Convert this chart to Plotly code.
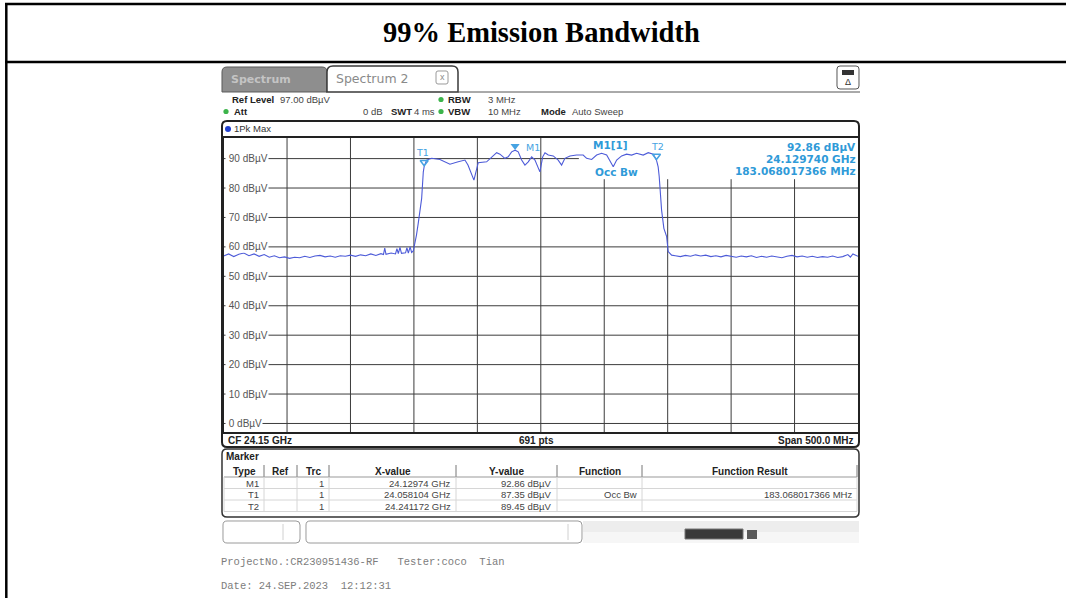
import plotly.graph_objects as go

W, H = 1066, 598

# ---------------- data ----------------
center_freq_ghz = 24.15
span_mhz = 500.0
ref_level_dbuv = 97.0
bottom_level_dbuv = -3.0
freq_divisions = 10

# sweep trace (offset from start frequency in MHz, level in dBuV)
trace_offset_mhz = [
    0, 4, 8, 12, 16, 20, 24, 28, 32, 36, 40, 44, 48, 52, 56, 60, 64, 68, 72, 76,
    80, 84, 88, 92, 96, 100, 104, 108, 112, 116, 120, 124, 126, 127, 128, 132,
    135.5, 136.6, 137.7, 139, 140.2, 143.4, 144.5, 145.6, 147, 148.2, 149.5,
    150.8, 152, 153.4, 155, 156.1, 157.4, 158.104, 160.0, 164.0, 170.5, 178.4,
    184.9, 190.2, 192.6, 195.5, 197.3, 198.9, 200.7, 207.3, 211.3, 215.2, 217.8,
    221.7, 224.3, 227.0, 229.74, 232.2, 234.9, 237.5, 240.1, 242.8, 245.4, 248.0,
    249.3, 251.5, 253.3, 255.9, 259.8, 263.7, 266.4, 269.0, 273.0, 278.2, 283.4,
    286.1, 290.1, 294.0, 297.9, 301.9, 304.5, 307.1, 309.8, 313.7, 317.6, 321.6,
    325.5, 330.7, 334.7, 338.6, 341.172, 342.5, 343.3, 343.9, 345.2, 347.0,
    349.2, 350.4, 353.1, 356, 360, 364, 368, 372, 376, 380, 384, 388, 392, 396,
    400, 404, 408, 412, 416, 420, 424, 428, 432, 436, 440, 444, 448, 452, 456,
    460, 464, 468, 472, 476, 480, 484, 488, 492, 494, 496, 500,
]
trace_level_dbuv = [
    56.9, 57.6, 56.7, 57.5, 57.9, 57.0, 57.6, 56.8, 57.4, 56.5, 57.0, 56.3, 56.6,
    56.1, 56.5, 56.3, 56.8, 56.4, 56.9, 57.1, 56.6, 56.9, 56.5, 57.0, 56.8, 57.2,
    56.8, 57.3, 57.0, 57.6, 57.1, 57.7, 57.4, 59.6, 57.5, 57.9, 57.6, 59.4, 57.7,
    59.8, 57.8, 58.0, 59.7, 57.9, 60.0, 58.1, 58.6, 61.3, 64.0, 68.0, 73.0, 76.5,
    85.5, 87.35, 89.5, 90.1, 89.7, 88.1, 88.9, 89.5, 87.8, 85.0, 82.7, 85.5, 88.6,
    88.9, 90.4, 92.0, 91.5, 90.1, 90.6, 92.3, 92.86, 92.3, 89.5, 87.8, 88.9, 90.6,
    89.5, 87.2, 85.5, 90.6, 92.0, 91.2, 90.9, 89.5, 87.8, 90.1, 90.9, 91.2, 91.2,
    90.1, 89.7, 91.2, 91.8, 91.2, 89.3, 87.2, 89.5, 90.9, 91.5, 91.2, 91.8, 91.2,
    92.0, 91.5, 89.45, 87.2, 84.0, 79.3, 72.5, 66.3, 63.5, 58.4, 57.2, 57.0, 56.7,
    57.1, 56.8, 57.3, 56.9, 57.2, 56.7, 57.0, 56.6, 57.1, 56.8, 56.5, 56.9, 56.6,
    57.0, 56.4, 56.8, 56.5, 56.9, 56.7, 56.3, 56.8, 57.1, 56.6, 56.9, 56.5, 56.8,
    56.4, 56.7, 56.5, 56.9, 56.4, 56.7, 57.4, 56.5, 57.6, 56.8,
]

level_ticks = [90, 80, 70, 60, 50, 40, 30, 20, 10, 0]
level_tick_labels = ["90 dBµV", "80 dBµV", "70 dBµV", "60 dBµV", "50 dBµV",
                     "40 dBµV", "30 dBµV", "20 dBµV", "10 dBµV", "0 dBµV"]

marker_names = ["M1", "T1", "T2"]
marker_freq_ghz = [24.12974, 24.058104, 24.241172]
marker_level_dbuv = [92.86, 87.35, 89.45]
marker_ref = ["", "", ""]
marker_trc = ["1", "1", "1"]
marker_x_text = ["24.12974 GHz", "24.058104 GHz", "24.241172 GHz"]
marker_y_text = ["92.86 dBµV", "87.35 dBµV", "89.45 dBµV"]
marker_function = ["", "Occ Bw", ""]
marker_result = ["", "183.068017366 MHz", ""]

table_headers = ["Type", "Ref", "Trc", "X-value", "Y-value", "Function", "Function Result"]

m1_info = ["92.86 dBµV", "24.129740 GHz", "183.068017366 MHz"]

# ---------------- helpers ----------------
SANS = "Liberation Sans"
BSANS = "DejaVu Sans"
MONO = "Liberation Mono"
SERIF = "Liberation Serif"
BLUE_TXT = "#2f9ad8"
MK_BLUE = "#46a3e2"
GRID = "#3c3c3c"

shapes = []
annots = []


def px(x):
    return x / W


def py(y):
    return 1 - y / H


def rect(x0, y0, x1, y1, fill=None, lc=None, lw=1.0, layer="above"):
    shapes.append(dict(type="rect", xref="paper", yref="paper",
                       x0=px(x0), x1=px(x1), y0=py(y1), y1=py(y0),
                       fillcolor=fill or "rgba(0,0,0,0)",
                       line=dict(color=lc or "rgba(0,0,0,0)", width=lw if lc else 0),
                       layer=layer))


def line(x0, y0, x1, y1, color="#000", lw=1.0, layer="above"):
    shapes.append(dict(type="line", xref="paper", yref="paper",
                       x0=px(x0), x1=px(x1), y0=py(y0), y1=py(y1),
                       line=dict(color=color, width=lw), layer=layer))


def rrect(x0, y0, x1, y1, r, fill=None, lc="#333", lw=1.0, top_only=False):
    def p(x, y):
        return f"{px(x):.6f},{py(y):.6f}"
    if top_only:
        d = (f"M {p(x0, y1)} L {p(x0, y0 + r)} Q {p(x0, y0)} {p(x0 + r, y0)} "
             f"L {p(x1 - r, y0)} Q {p(x1, y0)} {p(x1, y0 + r)} L {p(x1, y1)}")
        if fill:
            d += " Z"
    else:
        d = (f"M {p(x0 + r, y0)} L {p(x1 - r, y0)} Q {p(x1, y0)} {p(x1, y0 + r)} "
             f"L {p(x1, y1 - r)} Q {p(x1, y1)} {p(x1 - r, y1)} "
             f"L {p(x0 + r, y1)} Q {p(x0, y1)} {p(x0, y1 - r)} "
             f"L {p(x0, y0 + r)} Q {p(x0, y0)} {p(x0 + r, y0)} Z")
    shapes.append(dict(type="path", xref="paper", yref="paper", path=d,
                       fillcolor=fill or "rgba(0,0,0,0)",
                       line=dict(color=lc, width=lw), layer="above"))


def dot(x, y, r, color):
    shapes.append(dict(type="circle", xref="paper", yref="paper",
                       x0=px(x - r), x1=px(x + r), y0=py(y + r), y1=py(y - r),
                       fillcolor=color, line=dict(width=0), layer="above"))


def text(x, y, s, size=9.5, color="#222", anchor="left", family=SANS, bold=False, bg=None):
    annots.append(dict(xref="paper", yref="paper", x=px(x), y=py(y),
                       text=(f"<b>{s}</b>" if bold else s), showarrow=False,
                       xanchor=anchor, yanchor="middle",
                       font=dict(family=family, size=size, color=color),
                       bgcolor=bg, borderpad=0))


# ---------------- document frame & title ----------------
line(5, 4, 1066, 4, "#000", 2.5)
line(5, 62, 1066, 62, "#000", 2.5)
line(6.3, 3, 6.3, 598, "#000", 2.5)
text(541, 33, "99% Emission Bandwidth", size=28.5, color="#000", anchor="center",
     family=SERIF, bold=True)

# ---------------- tabs ----------------
rrect(222, 67, 327, 92, 5, fill="#8e8e8e", lc="#5a5a5a", lw=1, top_only=True)
text(230, 79, "Spectrum", size=11, color="#c4c4c4", bold=True, family=BSANS)
rrect(327, 66, 458, 92, 6, fill="#ffffff", lc="#3a3a3a", lw=1.5, top_only=True)
text(335, 78, "Spectrum 2", size=12.5, color="#8a8a8a", family=BSANS)
rrect(436, 71, 448, 84, 2, fill="#ffffff", lc="#9a9a9a", lw=1)
text(442, 77.5, "x", size=9, color="#8a8a8a", anchor="center")
line(458, 92, 860, 92, "#555", 1)
rrect(837, 66, 859, 89, 3, fill="#ffffff", lc="#555", lw=1)
rect(842, 70, 854, 75, fill="#333")
text(848, 82, "Δ", size=9, color="#333", anchor="center")

# ---------------- header ----------------
HY1, HY2 = 99.5, 111.5
text(231, HY1, "Ref Level", size=9.5, bold=True)
text(279, HY1, "97.00 dBµV", color="#444")
dot(441, HY1, 2.6, "#3cb44b")
text(447, HY1, "RBW", size=9.5, bold=True)
text(487, HY1, "3 MHz", color="#444")
dot(226, HY2, 2.6, "#3cb44b")
text(233, HY2, "Att", size=9.5, bold=True)
text(384, HY2, "0 dB", color="#444", anchor="right")
text(390, HY2, "SWT", size=9.5, bold=True)
text(413, HY2, "4 ms", color="#444")
dot(441, HY2, 2.6, "#3cb44b")
text(447, HY2, "VBW", size=9.5, bold=True)
text(487, HY2, "10 MHz", color="#444")
text(540, HY2, "Mode", size=9.5, bold=True)
text(571, HY2, "Auto Sweep", color="#444")

# ---------------- trace window frame ----------------
rrect(222, 121, 859, 447, 5, lc="#222", lw=2)
dot(228, 129, 3, "#1f3fd0")
text(233, 129, "1Pk Max", size=9.5, color="#333")
text(227, 440, "CF 24.15 GHz", size=10, bold=True)
text(536, 440, "691 pts", size=10, bold=True, anchor="center")
text(855, 440, "Span 500.0 MHz", size=10, bold=True, anchor="right")

# marker info (top right)
text(610, 145, "M1[1]", size=10.5, color=BLUE_TXT, bold=True, anchor="center", family=BSANS)
text(616, 172, "Occ Bw", size=10.5, color=BLUE_TXT, bold=True, anchor="center", family=BSANS)
for i, s in enumerate(m1_info):
    text(857, 146.5 + i * 12.5, s, size=10.5, color=BLUE_TXT, bold=True, anchor="right",
         family=BSANS)

# ---------------- marker table ----------------
rrect(222, 449, 859, 517, 5, lc="#333", lw=1.5)
text(225, 456, "Marker", size=10, bold=True)
cols = [224, 264, 297, 329, 456, 557, 642, 857]
hy0, hy1 = 465, 477
row_h = 11.5
for c in cols[1:]:
    line(c, hy0, c, hy1, "#777", 1)
line(cols[0], hy1, cols[-1], hy1, "#999", 1)
for i, hname in enumerate(table_headers):
    text((cols[i] + cols[i + 1]) / 2, 471.5, hname, size=10, bold=True, anchor="center")
for r in range(3):
    y0 = hy1 + r * row_h
    line(cols[0], y0 + row_h, cols[-1], y0 + row_h, "#d6d6d6", 1)
for c in cols:
    line(c, hy1, c, hy1 + 3 * row_h, "#d6d6d6", 1)
for r in range(3):
    yc = hy1 + r * row_h + row_h / 2 + 0.5
    vals = [marker_names[r], marker_ref[r], marker_trc[r], marker_x_text[r],
            marker_y_text[r], marker_function[r], marker_result[r]]
    for i, v in enumerate(vals):
        if v:
            text(cols[i + 1] - 4, yc, v, size=9.5, color="#444", anchor="right")

# ---------------- status bar ----------------
rrect(223, 521, 300, 543, 4, fill="#ffffff", lc="#9a9a9a", lw=1)
line(283, 524, 283, 540, "#d0d0d0", 1)
rrect(306, 521, 582, 543, 4, fill="#ffffff", lc="#9a9a9a", lw=1)
line(568, 524, 568, 540, "#d0d0d0", 1)
rect(583, 521, 859, 543, fill="#ededed")
rect(583, 532, 859, 543, fill="#f6f6f6")
rect(685, 529, 743, 539, fill="#3a3a3a", lc="#777", lw=1)
rect(747, 530, 757, 539, fill="#5a5a5a")

# ---------------- footer ----------------
nb = "\u00a0"
text(220, 562, f"ProjectNo.:CR230951436-RF{nb*3}Tester:coco{nb*2}Tian", size=10.5,
     color="#7d7d7d", family=MONO)
text(220, 586, f"Date:{nb}24.SEP.2023{nb*2}12:12:31", size=10.5, color="#7d7d7d", family=MONO)

# ---------------- plot ----------------
f_start = center_freq_ghz - span_mhz / 2000.0
f_stop = center_freq_ghz + span_mhz / 2000.0
f_step = (f_stop - f_start) / freq_divisions
trace_freq_ghz = [f_start + o / 1000.0 for o in trace_offset_mhz]

# grid (drawn as shapes so the marker-info area stays clear, as on the instrument)
info_zone_start_ghz = 24.18
info_zone_floor_db = 83.0
for k in range(1, freq_divisions):
    fx = f_start + k * f_step
    top = info_zone_floor_db if fx > info_zone_start_ghz else ref_level_dbuv
    shapes.append(dict(type="line", xref="x", yref="y", x0=fx, x1=fx,
                       y0=bottom_level_dbuv, y1=top, layer="below",
                       line=dict(color=GRID, width=1)))
for lv in level_ticks:
    right = info_zone_start_ghz if lv > info_zone_floor_db else f_stop
    shapes.append(dict(type="line", xref="x", yref="y", x0=f_start, x1=right,
                       y0=lv, y1=lv, layer="below", line=dict(color=GRID, width=1)))

fig = go.Figure()
fig.add_trace(go.Scatter(x=trace_freq_ghz, y=trace_level_dbuv, mode="lines",
                         line=dict(color="#4d5bd8", width=1.1), hoverinfo="skip"))

db_per_px = (ref_level_dbuv - bottom_level_dbuv) / 294.3
tri_off = 4.2 * db_per_px
fig.add_trace(go.Scatter(x=[marker_freq_ghz[0]], y=[marker_level_dbuv[0] + tri_off],
                         mode="markers", hoverinfo="skip",
                         marker=dict(symbol="triangle-down", size=8, color=MK_BLUE,
                                     line=dict(width=0))))
fig.add_trace(go.Scatter(x=marker_freq_ghz[1:], y=[v + tri_off for v in marker_level_dbuv[1:]],
                         mode="markers", hoverinfo="skip",
                         marker=dict(symbol="triangle-down-open", size=7, color=MK_BLUE,
                                     line=dict(width=1.5))))

label_shift = {"M1": (18, 3, "M1"), "T1": (-2, 14, "T1"), "T2": (1, 13.5, "T2")}
for name, fx, lv in zip(marker_names, marker_freq_ghz, marker_level_dbuv):
    xs, ys, lab = label_shift[name]
    annots.append(dict(xref="x", yref="y", x=fx, y=lv, text=lab, showarrow=False,
                       xshift=xs, yshift=ys, xanchor="center", yanchor="middle",
                       font=dict(family=BSANS, size=9.5, color=MK_BLUE)))

for lv, lab in zip(level_ticks, level_tick_labels):
    annots.append(dict(xref="x", yref="y", x=f_start, y=lv, text="\u00a0" + lab,
                       showarrow=False, xshift=1, xanchor="left", yanchor="middle",
                       bgcolor="#ffffff", borderpad=0,
                       font=dict(family=SANS, size=10, color="#555")))

fig.update_layout(
    width=W, height=H,
    margin=dict(l=0, r=0, t=0, b=0),
    paper_bgcolor="#ffffff", plot_bgcolor="#ffffff",
    showlegend=False,
    xaxis=dict(domain=[223.6 / W, 858 / W], range=[f_start, f_stop],
               showgrid=False, showticklabels=False, ticks="", zeroline=False,
               showline=True, mirror=True, linecolor="#222", linewidth=1.5),
    yaxis=dict(domain=[1 - 432.3 / H, 1 - 138 / H],
               range=[bottom_level_dbuv, ref_level_dbuv],
               showgrid=False, showticklabels=False, ticks="", zeroline=False,
               showline=True, mirror=True, linecolor="#222", linewidth=1.5),
    shapes=shapes,
    annotations=annots,
)

fig.write_html("out.html", include_plotlyjs=True, config={"displayModeBar": False},
               post_script="document.body.style.margin='0';document.body.style.overflow='hidden';")
